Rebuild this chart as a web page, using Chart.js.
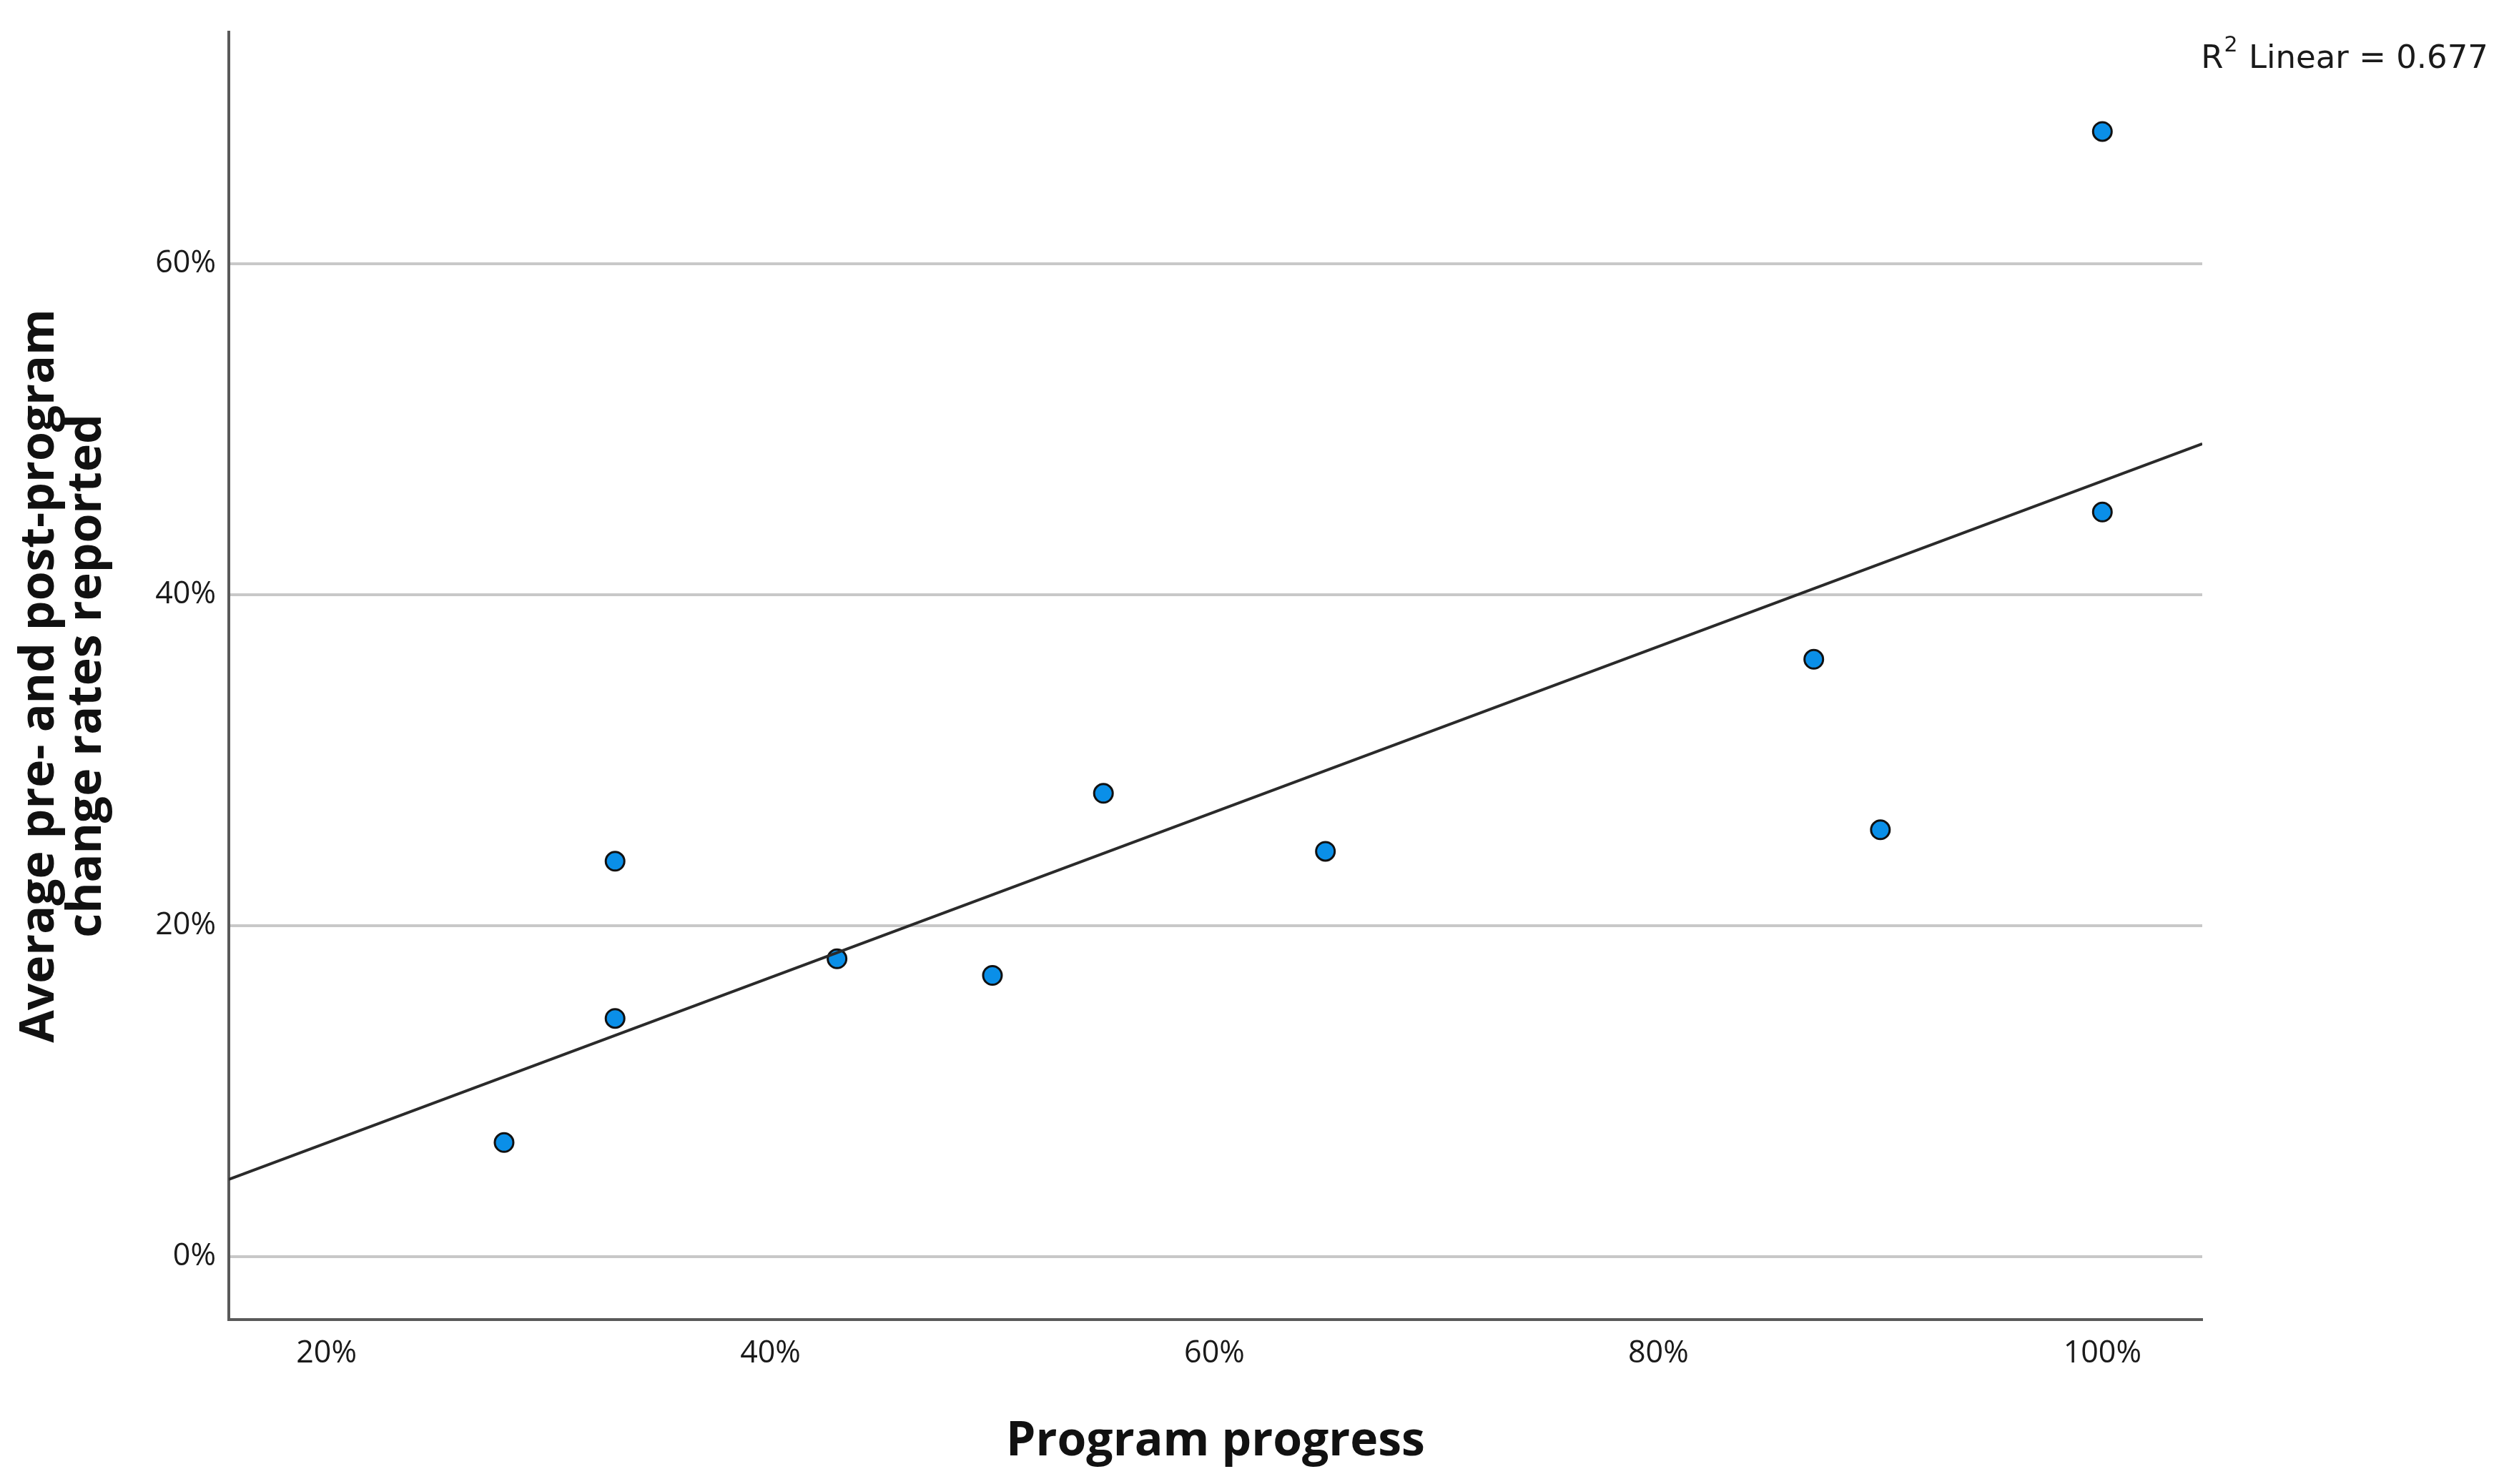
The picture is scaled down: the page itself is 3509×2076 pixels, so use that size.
<!DOCTYPE html>
<html>
<head>
<meta charset="utf-8">
<script src="https://cdn.jsdelivr.net/npm/chart.js@4/dist/chart.umd.min.js"></script>
<style>
  html, body { margin: 0; padding: 0; background: #ffffff; }
  canvas { display: block; }
</style>
</head>
<body>
<canvas id="c" width="3509" height="2076" style="width:3509px;height:2076px"></canvas>
<script>
// ---- data (percent) ----
const programProgress = [28, 33, 33, 43, 50, 55, 65, 87, 90, 100, 100];
const changeRates     = [6.9, 14.4, 23.9, 18.0, 17.0, 28.0, 24.5, 36.1, 25.8, 45.0, 68.0];
const xTickValues = [20, 40, 60, 80, 100];
const yTickValues = [0, 20, 40, 60];
const xRange = [15.6, 104.5];
const yRange = [-3.8, 74];
const xTitle = 'Program progress';
const yTitle = ['Average pre- and post-program', 'change rates reported'];
const fitLabelParts = ['R', '2', ' Linear = 0.677'];

// least-squares fit computed from the data
function linearFit(xs, ys) {
  const n = xs.length;
  const mx = xs.reduce((a, b) => a + b, 0) / n;
  const my = ys.reduce((a, b) => a + b, 0) / n;
  let sxy = 0, sxx = 0;
  for (let i = 0; i < n; i++) { sxy += (xs[i] - mx) * (ys[i] - my); sxx += (xs[i] - mx) ** 2; }
  const slope = sxy / sxx;
  return { slope, intercept: my - slope * mx };
}
const fit = linearFit(programProgress, changeRates);
const fitLine = xRange.map(x => ({ x, y: fit.intercept + fit.slope * x }));
const points = programProgress.map((x, i) => ({ x, y: changeRates[i] }));

const fitLabelPlugin = {
  id: 'fitLabel',
  afterDraw(chart) {
    const ctx = chart.ctx;
    ctx.save();
    const big = '45px "DejaVu Sans"';
    const small = '30px "DejaVu Sans"';
    ctx.fillStyle = '#1a1a1a';
    ctx.textAlign = 'left';
    ctx.textBaseline = 'alphabetic';
    ctx.font = big;  const w0 = ctx.measureText(fitLabelParts[0]).width;
    ctx.font = small; const w1 = ctx.measureText(fitLabelParts[1]).width;
    ctx.font = big;  const w2 = ctx.measureText(fitLabelParts[2]).width;
    const baseline = chart.chartArea.top + 50;
    let x = 3480 - (w0 + w1 + 2 + w2);
    ctx.font = big;   ctx.fillText(fitLabelParts[0], x, baseline); x += w0 + 1;
    ctx.font = small; ctx.fillText(fitLabelParts[1], x, baseline - 23); x += w1 + 1;
    ctx.font = big;   ctx.fillText(fitLabelParts[2], x, baseline);
    ctx.restore();
  }
};
const bgPlugin = {
  id: 'bg',
  beforeDraw(chart) {
    const ctx = chart.ctx;
    ctx.save();
    ctx.fillStyle = '#ffffff';
    ctx.fillRect(0, 0, chart.width, chart.height);
    ctx.restore();
  }
};

new Chart(document.getElementById('c'), {
  type: 'scatter',
  data: {
    datasets: [
      {
        type: 'line',
        data: fitLine,
        borderColor: '#2a2a2a',
        borderWidth: 4,
        pointRadius: 0,
        fill: false,
        order: 0
      },
      {
        data: points,
        backgroundColor: '#0a8fe8',
        borderColor: '#111111',
        borderWidth: 3,
        pointRadius: 13,
        order: 1
      }
    ]
  },
  options: {
    responsive: false,
    devicePixelRatio: 1,
    animation: false,
    layout: { padding: { top: 45, right: 429, bottom: 0, left: 0 } },
    plugins: { legend: { display: false }, tooltip: { enabled: false } },
    scales: {
      x: {
        type: 'linear',
        min: xRange[0],
        max: xRange[1],
        afterBuildTicks: s => { s.ticks = xTickValues.map(v => ({ value: v })); },
        afterFit: s => { s.height = 230; },
        grid: { display: false, drawTicks: false },
        border: { display: true, color: '#5a5a5a', width: 4 },
        ticks: {
          padding: 22,
          color: '#1a1a1a',
          font: { family: 'Open Sans', size: 43 },
          callback: v => v + '%',
          maxRotation: 0
        },
        title: {
          display: true,
          text: xTitle,
          color: '#111111',
          font: { family: 'Open Sans', size: 66, weight: 'bold', lineHeight: 1.2 },
          padding: { top: 0, bottom: 19 }
        }
      },
      y: {
        type: 'linear',
        min: yRange[0],
        max: yRange[1],
        afterBuildTicks: s => { s.ticks = yTickValues.map(v => ({ value: v })); },
        afterFit: s => { s.width = 320; },
        grid: { display: true, drawTicks: false, color: '#c8c8c8', lineWidth: 4 },
        border: { display: true, color: '#5a5a5a', width: 4 },
        ticks: {
          padding: 18,
          color: '#1a1a1a',
          font: { family: 'Open Sans', size: 43 },
          callback: v => v + '%'
        },
        title: {
          display: true,
          text: yTitle,
          color: '#111111',
          font: { family: 'Open Sans', size: 66, weight: 'bold', lineHeight: 1.0 },
          padding: { top: 23, bottom: 0 }
        }
      }
    }
  },
  plugins: [bgPlugin, fitLabelPlugin]
});
</script>
</body>
</html>
